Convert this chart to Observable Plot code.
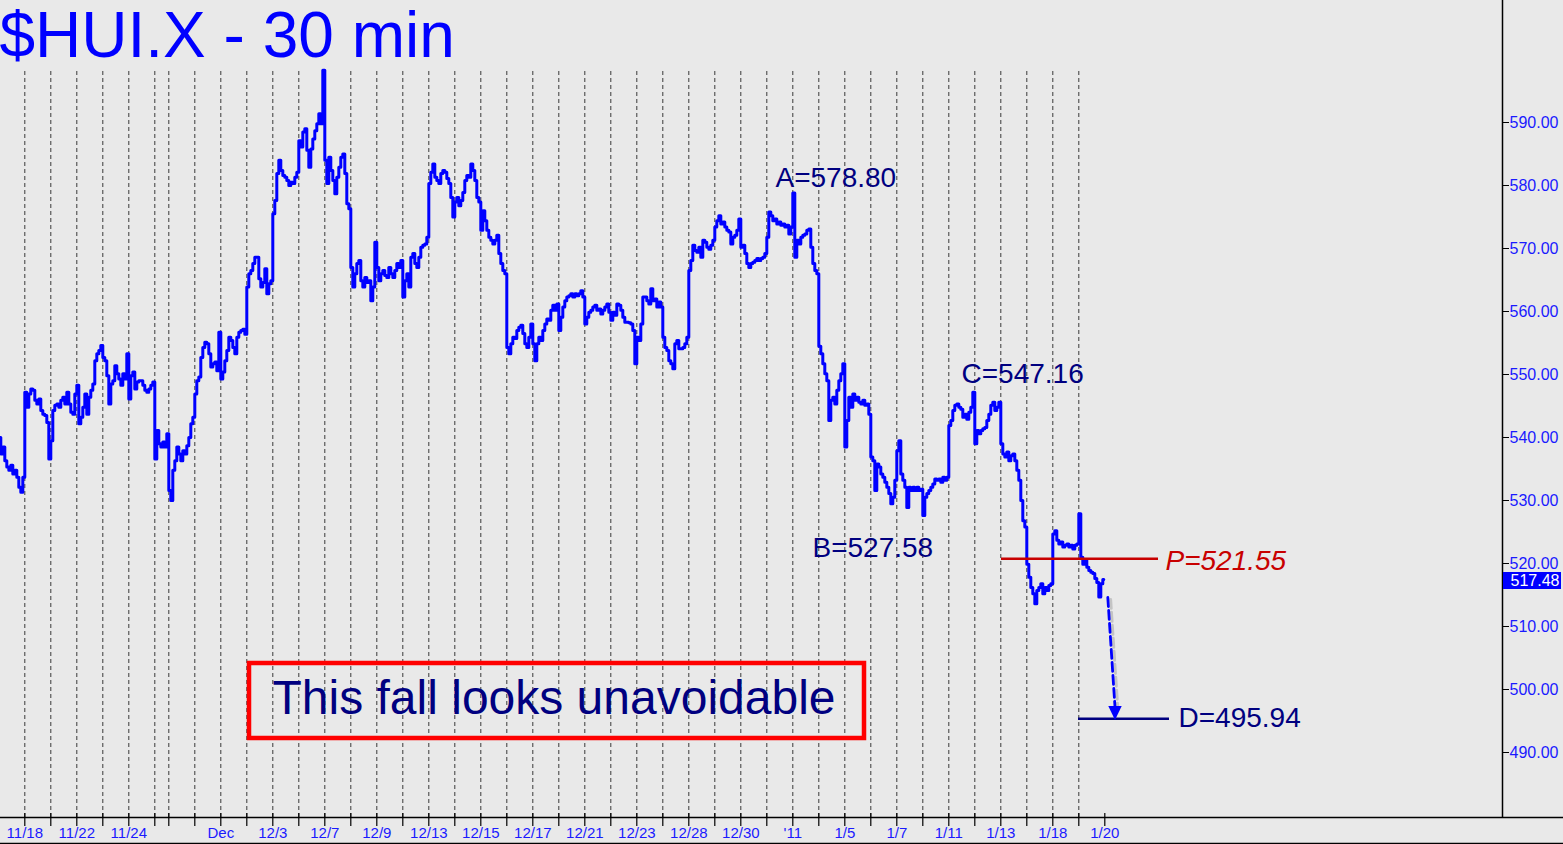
<!DOCTYPE html>
<html><head><meta charset="utf-8">
<script src="https://cdn.jsdelivr.net/npm/d3@7"></script>
<script src="https://cdn.jsdelivr.net/npm/@observablehq/plot@0.6"></script>
<style>html,body{margin:0;padding:0;background:#e9e9e9;overflow:hidden}</style>
</head><body><div id="chart"></div>
<script>
// ---------------- DATA ----------------
const days = ["11/17","11/18","11/19","11/22","11/23","11/24","11/26","11/29","11/30","12/1","12/2","12/3","12/6","12/7","12/8","12/9","12/10","12/13","12/14","12/15","12/16","12/17","12/20","12/21","12/22","12/23","12/27","12/28","12/29","12/30","12/31","1/3","1/4","1/5","1/6","1/7","1/10","1/11","1/12","1/13","1/14","1/18","1/19","1/20"];
const barsPerDay = [13,13,13,13,13,13,7,13,13,13,13,13,13,13,13,13,13,13,13,13,13,13,13,13,13,13,13,13,13,13,13,13,13,13,13,13,13,13,13,13,13,13,13,0];
// 30-minute values, one per bar, day by day
const closes = [
  540.0,537.4,538.5,536.3,535.3,534.8,535.6,534.2,534.8,533.7,532.1,531.3,533.7,
  547.2,544.8,546.9,547.7,547.5,545.9,545.3,546.1,544.3,543.7,543.5,542.4,536.6,
  539.5,544.3,545.1,545.3,544.8,545.9,546.4,545.3,547.2,545.3,544.0,543.7,546.9,
  548.3,542.2,543.2,544.8,546.9,543.7,546.4,547.5,548.5,552.2,553.3,553.8,554.6,
  552.7,552.2,549.8,545.3,548.5,549.0,551.4,550.1,549.3,548.3,550.1,549.3,553.3,
  546.1,549.8,550.4,547.7,548.8,549.0,549.0,548.3,547.5,547.2,547.7,548.3,548.8,
  536.6,541.1,539.0,538.5,539.3,538.5,540.6,
  531.6,530.0,534.8,536.3,538.5,537.4,536.3,537.9,537.4,538.7,540.0,542.2,543.2,
  546.9,549.0,549.6,552.7,554.3,555.1,554.9,553.3,551.2,551.7,552.0,550.6,556.7,
  549.3,550.4,552.2,553.8,555.9,555.4,554.3,553.3,555.9,556.7,557.0,557.2,556.4,
  563.9,566.0,566.5,567.6,568.6,568.6,565.2,563.9,564.6,566.8,562.8,564.4,564.9,
  575.5,577.6,581.9,584.0,582.4,581.6,581.3,580.8,580.0,580.5,580.3,581.3,582.1,
  587.1,586.1,588.5,589.0,585.6,582.9,585.8,587.4,588.7,589.8,591.4,589.8,598.3,
  584.0,580.3,584.5,582.4,580.8,578.7,581.3,582.9,584.5,585.0,581.9,577.1,576.3,
  567.0,563.9,566.0,567.6,568.1,564.9,563.9,565.4,564.6,564.9,561.7,563.9,571.0,
  567.0,564.9,566.0,566.5,565.7,565.4,567.0,566.0,565.4,566.5,567.6,567.0,568.1,
  562.3,564.9,566.0,563.9,568.6,569.2,567.6,567.0,568.6,570.2,570.5,570.7,571.8,
  580.3,582.1,583.4,581.3,580.8,580.3,581.9,582.4,582.1,581.1,580.3,578.1,575.0,
  577.4,578.1,576.8,577.6,578.9,580.8,581.6,581.3,583.4,582.4,580.8,578.1,577.4,
  572.9,576.0,574.4,572.9,571.8,571.3,570.7,571.3,572.1,569.2,567.6,566.5,566.0,
  554.3,553.3,554.9,555.9,555.7,557.0,557.5,557.8,556.5,554.9,554.3,555.9,558.0,
  554.9,552.2,554.9,555.9,555.4,557.0,558.0,558.8,558.6,560.2,561.0,560.2,561.2,
  557.0,559.1,560.7,561.7,562.3,562.5,562.8,562.3,562.8,562.5,562.8,563.3,562.3,
  558.0,559.1,559.9,560.2,560.7,561.0,560.2,560.4,559.6,560.2,560.7,561.2,559.9,
  558.6,559.9,559.4,561.2,561.0,560.2,559.1,558.3,558.3,558.2,558.0,557.0,551.7,
  555.9,555.4,558.0,562.3,562.3,561.7,561.2,563.6,561.7,562.0,560.7,561.5,560.7,
  555.9,554.3,553.8,552.2,551.7,550.9,554.9,555.4,554.1,554.1,554.3,554.9,555.9,
  566.5,568.1,570.5,569.7,569.4,570.2,568.6,571.3,571.0,570.2,569.9,570.5,571.3,
  573.4,574.4,575.2,573.9,574.2,573.4,572.9,572.6,570.7,571.8,572.1,572.9,574.7,
  570.2,570.5,569.2,567.6,567.0,567.6,567.8,568.1,568.4,568.1,568.4,568.6,569.2,
  571.8,575.8,575.2,574.4,574.7,573.9,574.2,573.7,573.9,573.4,573.7,572.3,573.4,
  578.8,568.6,571.3,570.7,571.8,572.1,572.3,572.9,573.1,570.2,567.6,566.5,566.0,
  554.5,553.3,551.7,550.1,549.0,542.7,545.9,546.4,545.3,547.5,549.0,550.1,551.7,
  538.5,542.7,546.4,544.8,546.9,545.9,546.4,545.6,545.3,545.9,545.1,545.3,543.7,
  536.9,536.3,531.6,535.8,535.3,534.2,533.7,532.9,532.1,531.1,529.5,530.5,533.2,
  537.9,539.5,534.2,533.2,532.1,528.9,532.1,531.6,532.1,531.6,532.1,531.6,531.8,
  527.6,530.5,531.1,531.6,532.1,532.6,533.4,533.2,533.4,532.9,533.7,533.2,533.7,
  541.9,542.7,544.3,545.1,545.3,544.8,544.5,543.2,543.7,542.9,544.0,544.8,547.2,
  539.0,541.1,540.6,541.1,541.4,541.6,542.7,543.7,545.1,545.6,544.3,544.8,545.6,
  539.0,537.4,536.9,537.7,536.3,537.1,537.4,536.3,534.8,533.2,530.0,526.8,525.8,
  519.9,517.8,516.2,515.2,513.6,515.7,516.2,516.8,515.2,516.2,515.7,516.5,516.8,
  524.7,525.2,523.7,523.1,523.4,522.6,522.9,523.1,522.6,522.9,522.3,522.9,523.1,
  527.9,521.0,519.9,520.5,519.4,518.9,518.6,518.4,517.6,517.0,514.7,516.8,517.48
];
const tickDays   = ["11/18","11/22","11/24","12/1","12/3","12/7","12/9","12/13","12/15","12/17","12/21","12/23","12/28","12/30","1/3","1/5","1/7","1/11","1/13","1/18","1/20"];
const tickLabels = ["11/18","11/22","11/24","Dec","12/3","12/7","12/9","12/13","12/15","12/17","12/21","12/23","12/28","12/30","'11","1/5","1/7","1/11","1/13","1/18","1/20"];
const yTicks = [490,500,510,520,530,540,550,560,570,580,590];
const lastPrice = 517.48;
const pivotNames  = ["A","B","C"];
const pivotValues = [578.80, 527.58, 547.16];
const targetP = 521.55;
const targetD = 495.94;
const title = "$HUI.X - 30 min";
const note = "This fall looks unavoidable";

// ---------------- LAYOUT ----------------
const W = 1563, H = 844, mL = 0, mR = 61, mT = 68, mB = 27;
const pxPerBar = 2, x0px = -0.7;           // pixel of bar 0 centre
const yRef = 590, yRefPx = 122, pxPerUnit = 6.3;
const xPix = p => (p - x0px) / pxPerBar;   // pixel -> bar index
const yPix = p => yRef - (p - yRefPx) / pxPerUnit; // pixel -> price
const xDomain = [xPix(mL), xPix(W - mR)];
const yDomain = [yPix(H - mB), yPix(mT)];

const dayStart = [];
barsPerDay.reduce((s, n) => (dayStart.push(s), s + n), 0);
const boundary = days.map((d, i) => dayStart[i] - 0.5);
const gridX = boundary.filter((b, i) => i > 0 && barsPerDay[i] > 0);
const tickX = boundary.filter((b, i) => i > 0);
const labelData = tickDays.map((d, i) => ({x: boundary[days.indexOf(d)], t: tickLabels[i]}));

const blue = "#0000ff", textBlue = "#1a1aff", navy = "#000080", red = "#c80000";
const font = "'Liberation Sans', Arial, sans-serif";

// annotation geometry (pixels of the reference converted to data space)
const labels = [
  {t: `${pivotNames[0]}=${pivotValues[0].toFixed(2)}`, x: xPix(775), y: yPix(178), c: navy},
  {t: `${pivotNames[2]}=${pivotValues[2].toFixed(2)}`, x: xPix(961), y: yPix(374), c: navy},
  {t: `${pivotNames[1]}=${pivotValues[1].toFixed(2)}`, x: xPix(812), y: yPix(548), c: navy},
  {t: `D=${targetD.toFixed(2)}`, x: xPix(1178), y: yPix(718), c: navy}
];
const arrowPts = [{x: xPix(1107.3), y: yPix(597)}, {x: xPix(1114.6), y: yPix(708)}];
const shadowPts = arrowPts.map(d => ({x: d.x + 1.4, y: d.y - 0.3}));
const tri = [
  {x: xPix(1108.3), y1: yPix(706), y2: yPix(706)},
  {x: xPix(1115),   y1: yPix(706), y2: yPix(720)},
  {x: xPix(1121.7), y1: yPix(706), y2: yPix(706)}
];

const chart = Plot.plot({
  width: W, height: H,
  marginLeft: mL, marginRight: mR, marginTop: mT, marginBottom: mB,
  x: {type: "linear", domain: xDomain, range: [mL, W - mR], axis: null},
  y: {type: "linear", domain: yDomain},
  style: {fontFamily: font, background: "#e9e9e9", overflow: "visible"},
  marks: [
    // dashed day separators
    Plot.ruleX(gridX, {y1: yDomain[0], y2: yDomain[1], stroke: "#3a3a3a", strokeWidth: 1, strokeDasharray: "4,3"}),
    // price
    Plot.line(closes, {x: (d, i) => i, y: d => d, stroke: blue, strokeWidth: 3, curve: "step"}),
    // target lines
    Plot.ruleY([yPix(558.3)], {x1: xPix(1001), x2: xPix(1158), stroke: red, strokeWidth: 2.5}),
    Plot.ruleY([yPix(718.3)], {x1: xPix(1078), x2: xPix(1169), stroke: navy, strokeWidth: 2.5}),
    // projected arrow
    Plot.line(shadowPts, {x: "x", y: "y", stroke: "#c4c4c4", strokeWidth: 3, strokeDasharray: "9,4"}),
    Plot.line(arrowPts, {x: "x", y: "y", stroke: blue, strokeWidth: 2.8, strokeDasharray: "9,4"}),
    Plot.areaY(tri, {x: "x", y1: "y1", y2: "y2", fill: blue}),
    // labels
    Plot.text(labels, {x: "x", y: "y", text: "t", fill: "c", textAnchor: "start", fontSize: 28}),
    Plot.text([`P=${targetP.toFixed(2)}`], {x: xPix(1165), y: yPix(561), fill: red, textAnchor: "start", fontSize: 28, fontStyle: "italic"}),
    // note box
    Plot.rect([0], {x1: xPix(249), x2: xPix(864), y1: yPix(738), y2: yPix(663), fill: "none", stroke: "#ff0000", strokeWidth: 4.5}),
    Plot.text([note], {x: xPix(272), y: yPix(698), fill: navy, textAnchor: "start", fontSize: 48}),
    // right axis
    Plot.ruleX([xDomain[1]], {y1: yDomain[0], y2: yPix(0), stroke: "black", strokeWidth: 1.5}),
    Plot.axisY({ticks: yTicks, anchor: "right", tickSize: 6, tickPadding: 1, tickFormat: d => d.toFixed(2),
      fontSize: 16, fill: textBlue, stroke: "black", label: null}),
    // last price tag
    Plot.rect([0], {x1: xPix(1503), x2: xPix(1561), y1: yPix(589), y2: yPix(572), fill: blue}),
    Plot.text([lastPrice.toFixed(2)], {x: xPix(1510), y: yPix(580.5), fill: "white", textAnchor: "start", fontSize: 16}),
    // bottom axis
    Plot.ruleY([yDomain[0]], {x1: xDomain[0], x2: xPix(W), stroke: "black", strokeWidth: 1.5}),
    Plot.ruleY([yPix(843)], {x1: xDomain[0], x2: xPix(W), stroke: "black", strokeWidth: 1.5}),
    Plot.ruleX(tickX, {y1: yPix(813), y2: yPix(826), stroke: "black", strokeWidth: 1.2}),
    Plot.text(labelData, {x: "x", y: yPix(833), text: "t", fill: textBlue, fontSize: 15}),
    // title
    Plot.text([title], {x: xPix(-1), y: yPix(36.5), fill: blue, textAnchor: "start", fontSize: 64})
  ]
});
document.getElementById("chart").appendChild(chart);
</script>
</body></html>
